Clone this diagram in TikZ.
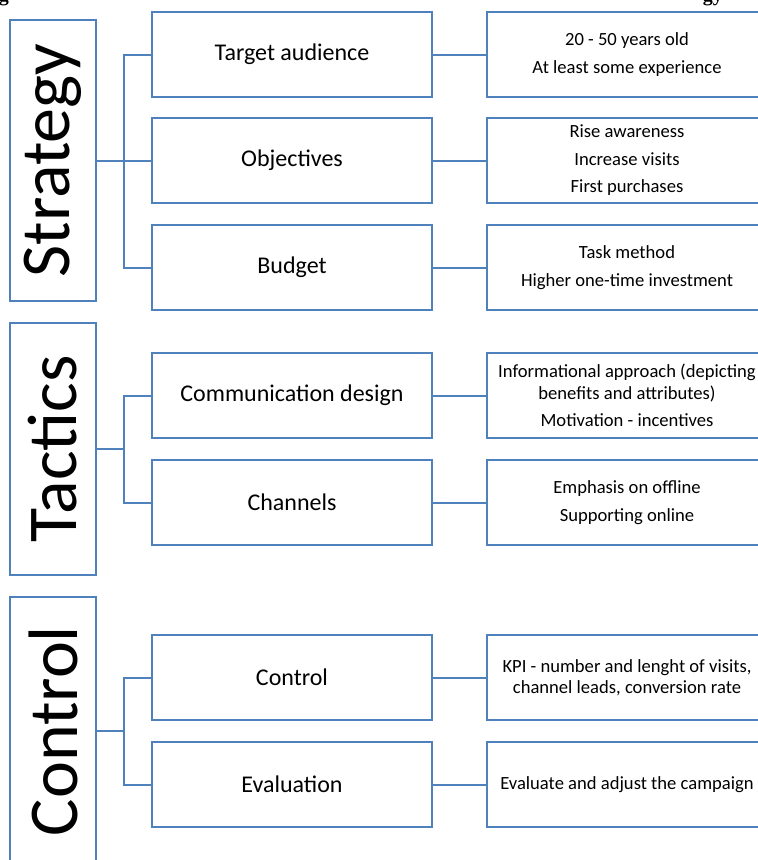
\documentclass[tikz,border=0pt]{standalone}
\usepackage{fontspec}
\setmainfont{Carlito}
\newfontfamily\capfont{Liberation Serif}
\definecolor{acc}{HTML}{4F81BD}
\begin{document}
\begin{tikzpicture}[x=1pt,y=1pt,
  box/.style={draw=acc, line width=2pt, fill=white, inner sep=0pt},
  side/.style={box, rotate=90, minimum height=86pt, font=\fontsize{70}{72}\selectfont},
  mid/.style={box, minimum width=280pt, minimum height=85pt, font=\fontsize{24}{28}\selectfont},
  detail/.style={box, minimum width=280pt, minimum height=85pt, align=center, font=\fontsize{18.6}{21.5}\selectfont},
  conn/.style={draw=acc, line width=2pt},
  captxt/.style={inner sep=0pt, font=\capfont\bfseries\fontsize{20}{24}\selectfont}
]
\path[use as bounding box, clip] (0,0) rectangle (758,-860);

% caption fragments (cut off at the top)
\node[captxt, anchor=base east] (capl) at (9,-1) {g};
\node[captxt, anchor=base east] (capr) at (723,-1) {gy};

% left column
\node[side, minimum width=281pt] (strat) at (53,-160.5) {Strategy};
\node[side, minimum width=252pt] (tact) at (53,-449) {Tactics};
\node[side, minimum width=268pt] (ctrl) at (53,-731) {Control};

% middle column
\node[mid] (ta)  at (292,-54.5)  {Target audience};
\node[mid] (obj) at (292,-160.5) {Objectives};
\node[mid] (bud) at (292,-267.5) {Budget};
\node[mid] (cd)  at (292,-395.5) {Communication design};
\node[mid] (ch)  at (292,-502.5) {Channels};
\node[mid] (co)  at (292,-677.5) {Control};
\node[mid] (ev)  at (292,-784.5) {Evaluation};

% right column
\node[detail] (tar) at (627,-54.5)  {20 - 50 years old\\[6pt]At least some experience};
\node[detail] (obr) at (627,-160.5) {Rise awareness\\[6pt]Increase visits\\[6pt]First purchases};
\node[detail] (bur) at (627,-267.5) {Task method\\[6pt]Higher one-time investment};
\node[detail] (cdr) at (627,-395.5) {Informational approach (depicting\\benefits and attributes)\\[6pt]Motivation - incentives};
\node[detail] (chr) at (627,-502.5) {Emphasis on offline\\[6pt]Supporting online};
\node[detail] (cor) at (627,-677.5) {KPI - number and lenght of visits,\\channel leads, conversion rate};
\node[detail] (evr) at (627,-784.5) {Evaluate and adjust the campaign};

% brackets
\coordinate (sj) at (124,-160.5);
\coordinate (tj) at (124,-449);
\coordinate (cj) at (124,-731);
\draw[conn] (strat.south) -- (sj);
\draw[conn] (ta.west) -| (sj) |- (bud.west);
\draw[conn] (obj.west) -- (sj);
\draw[conn] (tact.south) -- (tj);
\draw[conn] (cd.west) -| (tj) |- (ch.west);
\draw[conn] (ctrl.south) -- (cj);
\draw[conn] (co.west) -| (cj) |- (ev.west);

% middle to right
\draw[conn] (ta.east) -- (tar.west);
\draw[conn] (obj.east) -- (obr.west);
\draw[conn] (bud.east) -- (bur.west);
\draw[conn] (cd.east) -- (cdr.west);
\draw[conn] (ch.east) -- (chr.west);
\draw[conn] (co.east) -- (cor.west);
\draw[conn] (ev.east) -- (evr.west);
\end{tikzpicture}
\end{document}
